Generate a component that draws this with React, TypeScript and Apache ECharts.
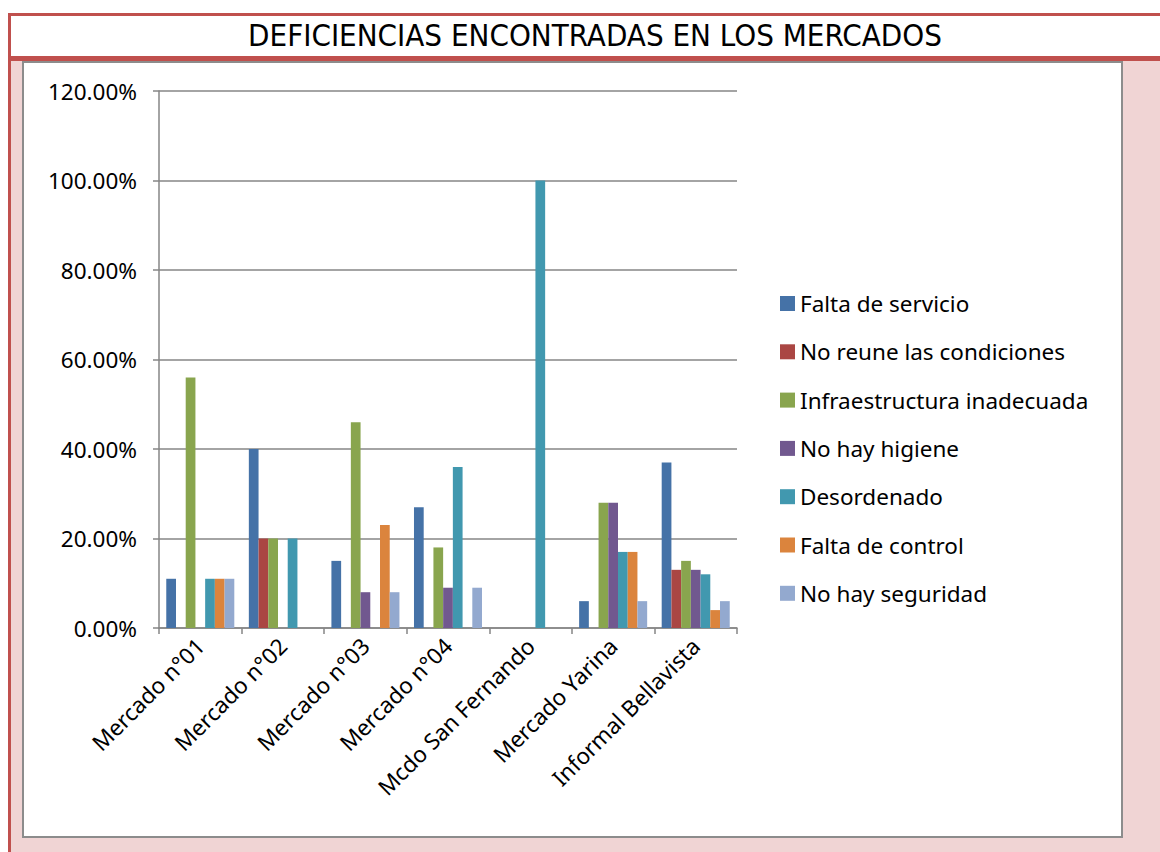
import React, { useEffect, useRef } from "react";
import * as echarts from "echarts";

const categories = [
  "Mercado n°01",
  "Mercado n°02",
  "Mercado n°03",
  "Mercado n°04",
  "Mcdo San Fernando",
  "Mercado Yarina",
  "Informal Bellavista",
];

const seriesNames = [
  "Falta de servicio",
  "No reune las condiciones",
  "Infraestructura inadecuada",
  "No hay higiene",
  "Desordenado",
  "Falta de control",
  "No hay seguridad",
];

const faltaServicio = [0.11, 0.4, 0.15, 0.27, 0, 0.06, 0.37];
const noReune = [0, 0.2, 0, 0, 0, 0, 0.13];
const infraestructura = [0.56, 0.2, 0.46, 0.18, 0, 0.28, 0.15];
const noHigiene = [0, 0, 0.08, 0.09, 0, 0.28, 0.13];
const desordenado = [0.11, 0.2, 0, 0.36, 1.0, 0.17, 0.12];
const faltaControl = [0.11, 0, 0.23, 0, 0, 0.17, 0.04];
const noSeguridad = [0.11, 0, 0.08, 0.09, 0, 0.06, 0.06];

const seriesValues = [
  faltaServicio,
  noReune,
  infraestructura,
  noHigiene,
  desordenado,
  faltaControl,
  noSeguridad,
];

const colors = ["#4572A7", "#AA4643", "#89A54E", "#71588F", "#4198AF", "#DB843D", "#93A9CF"];

const titleText = "DEFICIENCIAS ENCONTRADAS EN LOS MERCADOS";

export default function App() {
  const ref = useRef<HTMLDivElement>(null);

  useEffect(() => {
    if (!ref.current) return;
    const chart = echarts.init(ref.current, undefined, { renderer: "svg" });
    const font = "'Noto Sans', sans-serif";
    const fs = 22.5;
    chart.setOption({
      animation: false,
      backgroundColor: "#ffffff",
      color: colors,
      title: {
        text: titleText,
        left: 590,
        textAlign: "center",
        top: 14,
        textStyle: {
          fontFamily: "'DejaVu Sans Condensed', 'DejaVu Sans', sans-serif",
          fontWeight: 200,
          fontSize: 31,
          color: "#000",
        },
      },
      graphic: [
        { type: "rect", z: -100, shape: { x: 8, y: 13, width: 1152, height: 3 }, style: { fill: "#c0504d" } },
        { type: "rect", z: -100, shape: { x: 8, y: 13, width: 3, height: 839 }, style: { fill: "#c0504d" } },
        { type: "rect", z: -100, shape: { x: 11, y: 61, width: 1149, height: 791 }, style: { fill: "#f0d4d4" } },
        { type: "rect", z: -100, shape: { x: 8, y: 56, width: 1152, height: 5 }, style: { fill: "#c0504d" } },
        {
          type: "rect",
          z: -99,
          shape: { x: 23, y: 62, width: 1099, height: 775 },
          style: { fill: "#ffffff", stroke: "#8c8c8c", lineWidth: 2 },
        },
      ],
      legend: {
        orient: "vertical",
        left: 775,
        top: 287,
        itemWidth: 15,
        itemHeight: 15,
        itemGap: 25.3,
        icon: "rect",
        data: seriesNames,
        textStyle: { fontFamily: font, fontSize: fs, color: "#000" },
      },
      grid: { left: 159, top: 91, right: 423, bottom: 224, containLabel: false },
      xAxis: {
        type: "category",
        data: categories,
        axisLine: { lineStyle: { color: "#868686", width: 1.5 } },
        axisTick: { show: true, length: 6, alignWithLabel: false, lineStyle: { color: "#868686", width: 1.5 } },
        axisLabel: {
          rotate: 45,
          interval: 0,
          margin: 14,
          fontFamily: font,
          fontSize: fs,
          color: "#000",
        },
      },
      yAxis: {
        type: "value",
        min: 0,
        max: 1.2,
        interval: 0.2,
        axisLine: { show: true, lineStyle: { color: "#868686", width: 1.5 } },
        axisTick: { show: true, length: 6, lineStyle: { color: "#868686", width: 1.5 } },
        splitLine: { lineStyle: { color: "#868686", width: 1.5 } },
        axisLabel: {
          margin: 22,
          fontFamily: font,
          fontSize: fs,
          color: "#000",
          formatter: (v: number) => (v * 100).toFixed(2) + "%",
        },
      },
      series: seriesNames.map((name, i) => ({
        name,
        type: "bar",
        data: seriesValues[i],
        barGap: "0%",
        barCategoryGap: "17.6%",
        itemStyle: { color: colors[i] },
      })),
    });
    return () => chart.dispose();
  }, []);

  return (
    <div
      ref={ref}
      style={{ position: "fixed", left: 0, top: 0, width: 1160, height: 852 }}
    />
  );
}
